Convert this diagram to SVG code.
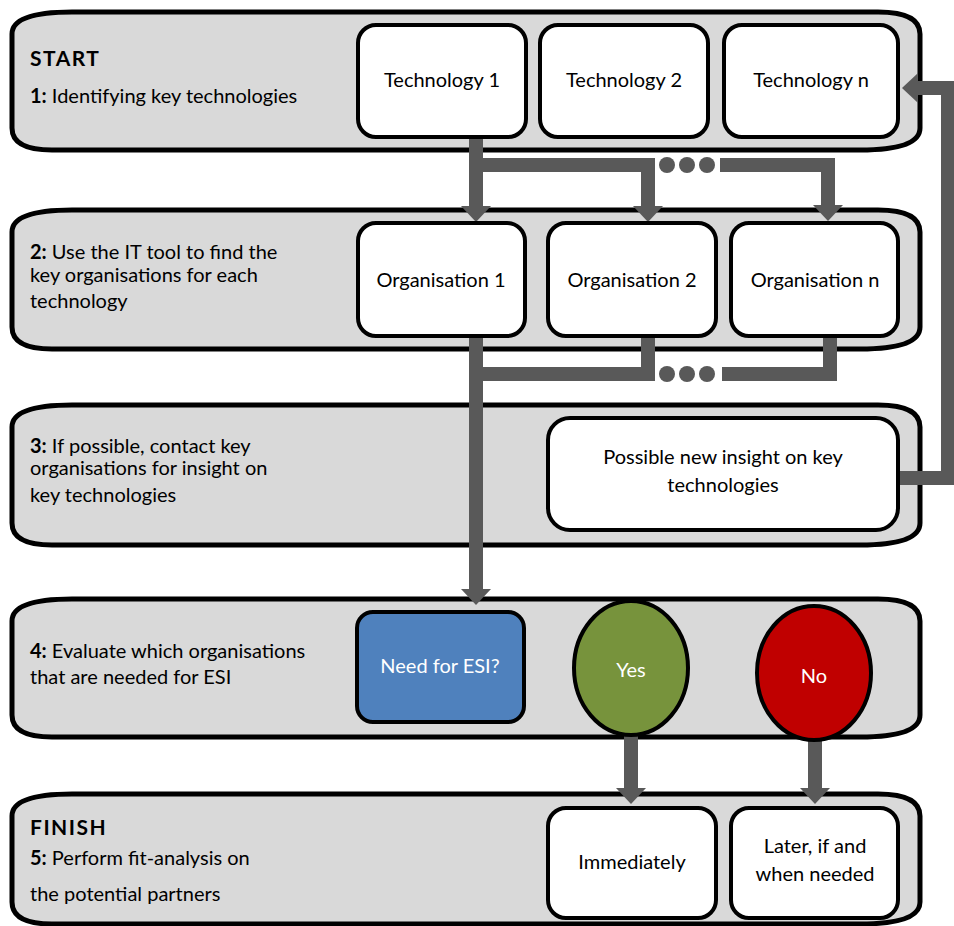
<svg xmlns="http://www.w3.org/2000/svg" width="954" height="926" viewBox="0 0 954 926">
  <style>
    .panel { fill: #d9d9d9; stroke: #000; stroke-width: 5; }
    .box { fill: #fff; stroke: #000; stroke-width: 4; }
    .lbl { font-family: Lato, "Liberation Sans", sans-serif; font-size: 20px; fill: #000; }
    .c { text-anchor: middle; }
    .w { fill: #fff; }
    .b { font-weight: bold; }
    .h { font-weight: bold; font-size: 21px; letter-spacing: 1.5px; }
    .conn { fill: none; stroke: #595959; stroke-width: 14; stroke-linejoin: miter; }
    .dot { fill: #595959; }
  </style>
  <defs>
    <marker id="head" markerUnits="userSpaceOnUse" markerWidth="16" markerHeight="30" viewBox="0 0 16 30" refX="0" refY="15" orient="auto">
      <path d="M0,0 L16,15 L0,30 Z" fill="#595959"/>
    </marker>
  </defs>

  <!-- stage panels (rounded bands with uneven corners) -->
  <g id="panel1"><path class="panel" d="M72,12 H878 Q920,12 920,34 V128 Q920,150 860,150 H52 Q12,150 12,128 V34 Q12,12 72,12 Z"/></g>
  <g id="panel2"><path class="panel" d="M72,210 H878 Q920,210 920,232 V327 Q920,349 860,349 H52 Q12,349 12,327 V232 Q12,210 72,210 Z"/></g>
  <g id="panel3"><path class="panel" d="M72,405 H878 Q920,405 920,427 V523 Q920,545 860,545 H52 Q12,545 12,523 V427 Q12,405 72,405 Z"/></g>
  <g id="panel4"><path class="panel" d="M72,599 H878 Q920,599 920,621 V715 Q920,737 860,737 H52 Q12,737 12,715 V621 Q12,599 72,599 Z"/></g>
  <g id="panel5"><path class="panel" d="M72,794 H878 Q920,794 920,816 V902 Q920,924 860,924 H52 Q12,924 12,902 V816 Q12,794 72,794 Z"/></g>

  <!-- stage descriptions -->
  <g id="stage1">
    <text class="lbl h" x="30" y="66">START</text>
    <text class="lbl" x="30" y="103"><tspan class="b">1:</tspan> Identifying key technologies</text>
  </g>
  <g id="stage2">
    <text class="lbl" x="30" y="259"><tspan class="b">2:</tspan> Use the IT tool to find the</text>
    <text class="lbl" x="30" y="282">key organisations for each</text>
    <text class="lbl" x="30" y="308">technology</text>
  </g>
  <g id="stage3">
    <text class="lbl" x="30" y="453"><tspan class="b">3:</tspan> If possible, contact key</text>
    <text class="lbl" x="30" y="475">organisations for insight on</text>
    <text class="lbl" x="30" y="502">key technologies</text>
  </g>
  <g id="stage4">
    <text class="lbl" x="30" y="658"><tspan class="b">4:</tspan> Evaluate which organisations</text>
    <text class="lbl" x="30" y="684">that are needed for ESI</text>
  </g>
  <g id="stage5">
    <text class="lbl h" x="30" y="835">FINISH</text>
    <text class="lbl" x="30" y="865"><tspan class="b">5:</tspan> Perform fit-analysis on</text>
    <text class="lbl" x="30" y="901">the potential partners</text>
  </g>

  <!-- connectors -->
  <g id="connectors">
    <path class="conn" d="M476,137 V206" marker-end="url(#head)"/>
    <path class="conn" d="M476,165 H648 V206" marker-end="url(#head)"/>
    <path class="conn" d="M720,165 H828 V205" marker-end="url(#head)"/>
    <circle class="dot" cx="667" cy="165" r="8"/>
    <circle class="dot" cx="687" cy="165" r="8"/>
    <circle class="dot" cx="707" cy="165" r="8"/>

    <path class="conn" d="M648,336 V374 H476"/>
    <path class="conn" d="M830,336 V374 H722"/>
    <circle class="dot" cx="667" cy="374" r="8"/>
    <circle class="dot" cx="687" cy="374" r="8"/>
    <circle class="dot" cx="707" cy="374" r="8"/>
    <path class="conn" d="M476,336 V589" marker-end="url(#head)"/>

    <path class="conn" d="M898,478 H948 V88 H918" marker-end="url(#head)"/>

    <path class="conn" d="M631,733 V788" marker-end="url(#head)"/>
    <path class="conn" d="M815,738 V788" marker-end="url(#head)"/>
  </g>

  <!-- nodes -->
  <g id="tech1"><rect class="box" x="358" y="25" width="168" height="112" rx="18"/><text class="lbl c" x="442" y="87">Technology 1</text></g>
  <g id="tech2"><rect class="box" x="540" y="25" width="168" height="112" rx="18"/><text class="lbl c" x="624" y="87">Technology 2</text></g>
  <g id="techn"><rect class="box" x="724" y="25" width="174" height="112" rx="18"/><text class="lbl c" x="811" y="87">Technology n</text></g>

  <g id="org1"><rect class="box" x="358" y="223" width="167" height="113" rx="18"/><text class="lbl c" x="441" y="287">Organisation 1</text></g>
  <g id="org2"><rect class="box" x="548" y="223" width="168" height="113" rx="18"/><text class="lbl c" x="632" y="287">Organisation 2</text></g>
  <g id="orgn"><rect class="box" x="731" y="223" width="167" height="113" rx="18"/><text class="lbl c" x="815" y="287">Organisation n</text></g>

  <g id="insight"><rect class="box" x="548" y="418" width="350" height="112" rx="22"/>
    <text class="lbl c" x="723" y="464">Possible new insight on key</text>
    <text class="lbl c" x="723" y="492">technologies</text></g>

  <g id="need"><rect x="357" y="612" width="167" height="110" rx="16" fill="#4f81bd" stroke="#000" stroke-width="4"/><text class="lbl c w" x="440" y="673">Need for ESI?</text></g>
  <g id="yes"><ellipse cx="631" cy="668" rx="57" ry="67" fill="#77933c" stroke="#000" stroke-width="4"/><text class="lbl c w" x="631" y="677">Yes</text></g>
  <g id="no"><ellipse cx="814" cy="673" rx="57" ry="67" fill="#c00000" stroke="#000" stroke-width="4"/><text class="lbl c w" x="814" y="683">No</text></g>

  <g id="immediately"><rect class="box" x="548" y="808" width="168" height="110" rx="18"/><text class="lbl c" x="632" y="869">Immediately</text></g>
  <g id="later"><rect class="box" x="731" y="808" width="167" height="110" rx="18"/>
    <text class="lbl c" x="815" y="853">Later, if and</text>
    <text class="lbl c" x="815" y="881">when needed</text></g>
</svg>
